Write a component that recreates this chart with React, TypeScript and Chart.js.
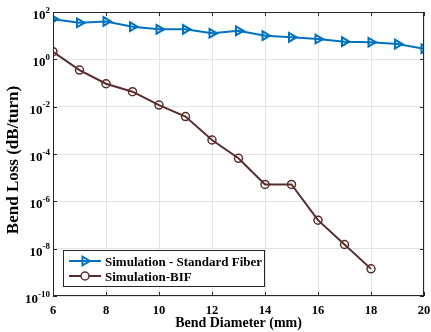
import React, { useEffect, useRef } from "react";
import { Chart, registerables } from "chart.js";
Chart.register(...registerables);

const diameters = [6, 7, 8, 9, 10, 11, 12, 13, 14, 15, 16, 17, 18, 19, 20];
const standardFiber = [50, 35, 40, 24, 18.5, 18.5, 12.6, 16, 10, 8.5, 7.2, 5.6, 5.3, 4.4, 2.8];
const bifDiameters = [6, 7, 8, 9, 10, 11, 12, 13, 14, 15, 16, 17, 18];
const bif = [2.1, 0.35, 0.093, 0.043, 0.0117, 0.0038, 3.9e-4, 6.6e-5, 5.2e-6, 5.2e-6, 1.6e-7, 1.5e-8, 1.4e-9];
const yTickExponents = [-10, -8, -6, -4, -2, 0, 2];
const xTicks = [6, 8, 10, 12, 14, 16, 18, 20];
const seriesNames = ["Simulation - Standard Fiber", "Simulation-BIF"];
const xTitle = "Bend Diameter (mm)";
const yTitle = "Bend Loss (dB/turn)";

const BLUE = "#0072BD";
const BROWN = "#5A2D2D";
const FONT = "'Liberation Serif', 'Times New Roman', serif";

function drawTriRight(ctx: CanvasRenderingContext2D, x: number, y: number, r: number) {
  ctx.beginPath();
  ctx.moveTo(x + r, y);
  ctx.lineTo(x - r * 0.5, y - r * 0.866);
  ctx.lineTo(x - r * 0.5, y + r * 0.866);
  ctx.closePath();
  ctx.stroke();
}

const overlay = {
  id: "overlay",
  afterDraw(chart: any) {
    const ctx: CanvasRenderingContext2D = chart.ctx;
    const { left, right, top, bottom } = chart.chartArea;
    const xs = chart.scales.x;
    const ys = chart.scales.y;
    ctx.save();
    // frame
    ctx.strokeStyle = "#262626";
    ctx.lineWidth = 1;
    ctx.strokeRect(Math.round(left) + 0.5, Math.round(top) + 0.5, Math.round(right - left) - 1, Math.round(bottom - top) - 1);
    // inward ticks
    ctx.beginPath();
    xTicks.forEach((v) => {
      const px = Math.round(xs.getPixelForValue(v)) + 0.5;
      ctx.moveTo(px, bottom);
      ctx.lineTo(px, bottom - 4);
      ctx.moveTo(px, top);
      ctx.lineTo(px, top + 4);
    });
    yTickExponents.forEach((e) => {
      const py = Math.round(ys.getPixelForValue(Math.pow(10, e))) + 0.5;
      ctx.moveTo(left, py);
      ctx.lineTo(left + 4, py);
      ctx.moveTo(right, py);
      ctx.lineTo(right - 4, py);
    });
    ctx.stroke();

    ctx.fillStyle = "#000";
    // x tick labels
    ctx.font = `bold 12.5px ${FONT}`;
    ctx.textAlign = "center";
    ctx.textBaseline = "alphabetic";
    xTicks.forEach((v) => {
      ctx.fillText(String(v), xs.getPixelForValue(v), 313.5);
    });
    // y tick labels with superscript
    yTickExponents.forEach((e) => {
      const py = ys.getPixelForValue(Math.pow(10, e));
      const expStr = e < 0 ? "-" + Math.abs(e) : String(e);
      ctx.font = `bold 9px ${FONT}`;
      const ew = ctx.measureText(expStr).width;
      ctx.font = `bold 13px ${FONT}`;
      const bw = ctx.measureText("10").width;
      const endX = left - 3;
      ctx.textAlign = "left";
      ctx.fillText("10", endX - ew - bw, py + 7);
      ctx.font = `bold 9px ${FONT}`;
      ctx.fillText(expStr, endX - ew, py + 0.5);
    });
    // axis titles
    ctx.font = `bold 14px ${FONT}`;
    ctx.textAlign = "center";
    ctx.fillText(xTitle, (left + right) / 2, 327);
    ctx.save();
    ctx.font = `bold 17px ${FONT}`;
    ctx.translate(18, 160);
    ctx.rotate(-Math.PI / 2);
    ctx.fillText(yTitle, 0, 0);
    ctx.restore();

    // legend
    const lx = 63.5, ly = 250.5, lw = 201, lh = 36;
    ctx.fillStyle = "#fff";
    ctx.fillRect(lx, ly, lw, lh);
    ctx.strokeStyle = "#262626";
    ctx.lineWidth = 1;
    ctx.strokeRect(lx, ly, lw, lh);
    const rows = [261, 276];
    const colors = [BLUE, BROWN];
    rows.forEach((ry, i) => {
      ctx.strokeStyle = colors[i];
      ctx.lineWidth = 2;
      ctx.beginPath();
      ctx.moveTo(69, ry);
      ctx.lineTo(101, ry);
      ctx.stroke();
      if (i === 0) {
        ctx.lineWidth = 2;
        drawTriRight(ctx, 85, ry, 5);
      } else {
        ctx.lineWidth = 1.5;
        ctx.fillStyle = "#fff";
        ctx.beginPath();
        ctx.arc(85, ry, 4, 0, Math.PI * 2);
        ctx.fill();
        ctx.stroke();
      }
      ctx.fillStyle = "#000";
      ctx.font = `bold 13px ${FONT}`;
      ctx.textAlign = "left";
      ctx.fillText(seriesNames[i], 105, ry + 4.5);
    });
    ctx.restore();
  },
};

export default function App() {
  const ref = useRef<HTMLCanvasElement>(null);
  useEffect(() => {
    if (!ref.current) return;
    const chart = new Chart(ref.current, {
      type: "line",
      data: {
        datasets: [
          {
            label: seriesNames[0],
            data: diameters.map((d, i) => ({ x: d, y: standardFiber[i] })),
            borderColor: BLUE,
            borderWidth: 2,
            pointStyle: "triangle",
            rotation: 90,
            pointRadius: 5,
            pointBorderWidth: 2,
            pointBackgroundColor: "rgba(255,255,255,0)",
            pointBorderColor: BLUE,
            fill: false,
            tension: 0,
          } as any,
          {
            label: seriesNames[1],
            data: bifDiameters.map((d, i) => ({ x: d, y: bif[i] })),
            borderColor: BROWN,
            borderWidth: 2,
            pointStyle: "circle",
            pointRadius: 4,
            pointBorderWidth: 1.5,
            pointBackgroundColor: "rgba(255,255,255,0)",
            pointBorderColor: BROWN,
            fill: false,
            tension: 0,
          } as any,
        ],
      },
      options: {
        animation: false,
        responsive: false,
        maintainAspectRatio: false,
        events: [],
        layout: { padding: { top: 12, right: 7, left: 0, bottom: 0 } },
        plugins: { legend: { display: false }, tooltip: { enabled: false } },
        scales: {
          x: {
            type: "linear",
            min: 6,
            max: 20,
            afterBuildTicks: (s: any) => {
              s.ticks = xTicks.map((v) => ({ value: v }));
            },
            afterFit: (s: any) => {
              s.height = 36;
            },
            ticks: { display: false },
            grid: { color: "#e3e3e3", drawTicks: false, lineWidth: 1 },
            border: { display: false },
            title: { display: false },
          },
          y: {
            type: "logarithmic",
            min: 1e-10,
            max: 1e2,
            afterBuildTicks: (s: any) => {
              s.ticks = yTickExponents.map((e) => ({ value: Math.pow(10, e) }));
            },
            afterFit: (s: any) => {
              s.width = 53;
            },
            ticks: { display: false },
            grid: { color: "#e3e3e3", drawTicks: false, lineWidth: 1 },
            border: { display: false },
            title: { display: false },
          },
        },
      } as any,
      plugins: [overlay],
    });
    return () => chart.destroy();
  }, []);
  return (
    <div style={{ position: "absolute", left: 0, top: 0, width: 431, height: 332, background: "#fff" }}>
      <canvas ref={ref} width={431} height={332} style={{ width: 431, height: 332, display: "block" }} />
    </div>
  );
}
